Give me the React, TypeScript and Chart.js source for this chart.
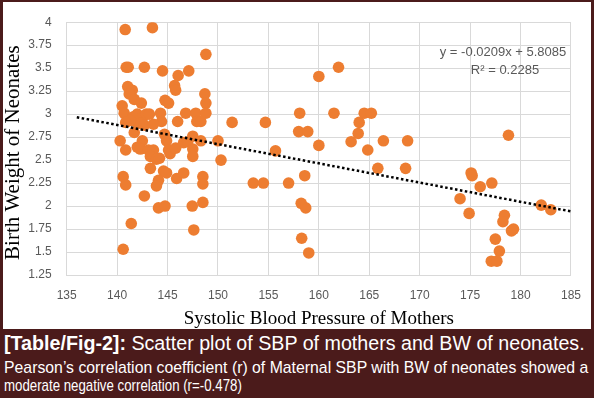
import React, { useEffect, useLayoutEffect, useRef } from 'react';
import { Chart, registerables } from 'chart.js';

Chart.register(...registerables);

// Systolic blood pressure of mothers (x)
const sbp: number[] = [
  140.8, 143.5, 148.8, 140.9, 141.1, 142.7, 144.5, 146.05, 147.1, 141.05,
  141.5, 141.2, 141.7, 142.4, 140.5, 145.7, 145.8, 144.75, 145.1, 148.7,
  148.8, 140.7, 141.6, 142.0, 142.5, 142.9, 143.2, 141.8, 142.3, 142.7,
  141.3, 140.85, 144.3, 144.4, 143.6, 146.0, 146.8, 147.8, 148.8, 147.9,
  148.3, 151.4, 154.7, 141.7, 144.7, 144.9, 140.3, 142.5, 140.85, 142.0,
  142.3, 143.1, 143.6, 143.3, 143.9, 144.2, 145.1, 145.25, 145.8, 146.6,
  147.0, 147.5, 147.5, 147.5, 148.3, 150.0, 150.3, 155.7, 143.3, 144.6,
  144.9, 145.9, 146.6, 140.6, 140.85, 144.1, 143.9, 148.5, 148.5, 142.7,
  144.1, 144.75, 147.45, 148.5, 141.4, 147.6, 140.6, 153.5, 154.5, 157.0,
  158.6, 158.25, 158.7, 158.3, 159.0, 160.0, 161.95, 158.1, 161.5, 164.5,
  165.2, 164.0, 158.0, 158.9, 163.9, 163.2, 160.0, 166.4, 168.8, 164.85,
  165.85, 168.6, 178.8, 175.1, 175.2, 176.0, 177.15, 174.0, 174.9, 178.4,
  178.25, 179.1, 179.3, 177.5, 177.9, 177.1, 177.65, 182.05, 183.0,
];

// Birth weight of neonates (y)
const bw: number[] = [
  3.92, 3.94, 3.65, 3.51, 3.51, 3.51, 3.47, 3.42, 3.47, 3.30,
  3.26, 3.22, 3.16, 3.12, 3.09, 3.31, 3.26, 3.15, 3.12, 3.22,
  3.12, 3.01, 2.97, 3.00, 2.96, 3.00, 3.00, 2.92, 2.90, 2.88,
  2.93, 2.91, 3.01, 2.92, 2.89, 2.92, 3.01, 3.01, 3.01, 2.92,
  2.92, 2.91, 2.91, 2.80, 2.78, 2.71, 2.71, 2.71, 2.61, 2.64,
  2.62, 2.61, 2.61, 2.54, 2.51, 2.52, 2.61, 2.57, 2.63, 2.69,
  2.70, 2.76, 2.62, 2.54, 2.71, 2.71, 2.50, 2.60, 2.41, 2.38,
  2.36, 2.30, 2.36, 2.32, 2.23, 2.28, 2.22, 2.32, 2.24, 2.11,
  1.98, 2.00, 2.00, 2.04, 1.81, 1.74, 1.53, 2.25, 2.25, 2.25,
  2.33, 2.03, 1.98, 1.65, 1.49, 3.41, 3.51, 3.01, 3.01, 3.01,
  3.01, 2.91, 2.81, 2.81, 2.79, 2.70, 2.66, 2.71, 2.71, 2.61,
  2.41, 2.41, 2.77, 2.36, 2.33, 2.21, 2.25, 2.08, 1.92, 1.90,
  1.83, 1.73, 1.75, 1.64, 1.51, 1.40, 1.40, 2.01, 1.96,
];

// Axis ranges (tick labels)
const xRange = { min: 135, max: 185, step: 5 };
const yRange = { min: 1.25, max: 4, step: 0.25 };

// Linear trendline as stated on the chart
const trendSlope = -0.0209;
const trendIntercept = 5.8085;
const trendXs: number[] = [136, 185];

const equationLabel = 'y = -0.0209x + 5.8085';
const r2Label = 'R² = 0.2285';
const xTitle = 'Systolic Blood Pressure of Mothers';
const yTitle = 'Birth Weight of Neonates';
const captionBold = '[Table/Fig-2]:';
const captionLine1 = ' Scatter plot of SBP of mothers and BW of neonates.';
const captionLine2 = 'Pearson\u2019s correlation coefficient (r) of Maternal SBP with BW of neonates showed a';
const captionLine3 = 'moderate negative correlation (r=-0.478)';

const MAROON = '#4b1b1b';

const textPlugin = {
  id: 'textPlugin',
  afterDraw(chart: any) {
    const { ctx, chartArea } = chart;
    const { left, right, top, bottom } = chartArea;
    ctx.save();
    ctx.fillStyle = '#000';
    ctx.font = '21px "Liberation Serif", serif';
    ctx.textAlign = 'center';
    ctx.textBaseline = 'middle';
    ctx.translate(13, (top + bottom) / 2 + 4);
    ctx.rotate(-Math.PI / 2);
    ctx.fillText(yTitle, 0, 0);
    ctx.restore();

    ctx.save();
    ctx.fillStyle = '#000';
    ctx.font = '19px "Liberation Serif", serif';
    ctx.textAlign = 'center';
    ctx.textBaseline = 'middle';
    ctx.fillText(xTitle, (left + right) / 2, 319);

    ctx.fillStyle = '#595959';
    ctx.font = '13px "Liberation Sans", Arial, sans-serif';
    ctx.fillText(equationLabel, 503, 52);
    ctx.fillText(r2Label, 505, 70);
    ctx.restore();
  },
};

function FitLine({ target, children, style }: { target: number; children: React.ReactNode; style: React.CSSProperties }) {
  const ref = useRef<HTMLDivElement | null>(null);
  useLayoutEffect(() => {
    const el = ref.current;
    if (!el) return;
    el.style.transform = 'none';
    const w = el.scrollWidth;
    if (w > 0) el.style.transform = `scaleX(${target / w})`;
  }, [target]);
  return (
    <div
      ref={ref}
      style={{
        ...style,
        position: 'absolute',
        whiteSpace: 'nowrap',
        transformOrigin: '0 0',
        display: 'inline-block',
      }}
    >
      {children}
    </div>
  );
}

const fmtTick = (v: any) => String(Number(Number(v).toFixed(2)));

export default function App() {
  const canvasRef = useRef<HTMLCanvasElement | null>(null);

  useEffect(() => {
    document.body.style.margin = '0';
    const canvas = canvasRef.current;
    if (!canvas) return;
    const points = sbp.map((x, i) => ({ x, y: bw[i] }));
    const trend = trendXs.map((x) => ({ x, y: trendSlope * x + trendIntercept }));
    const chart = new Chart(canvas, {
      type: 'scatter',
      data: {
        datasets: [
          {
            type: 'line',
            data: trend,
            borderColor: '#000',
            borderWidth: 2.5,
            borderDash: [2.5, 2.5],
            borderCapStyle: 'butt',
            pointRadius: 0,
            fill: false,
            order: 0,
          } as any,
          {
            data: points,
            backgroundColor: '#ED7D31',
            borderColor: '#ED7D31',
            borderWidth: 0,
            pointRadius: 5.8,
            order: 1,
          },
        ],
      },
      options: {
        animation: false,
        responsive: false,
        devicePixelRatio: 1,
        layout: { padding: { left: 0, right: 14.7, top: 12, bottom: 0 } },
        plugins: { legend: { display: false }, tooltip: { enabled: false } },
        scales: {
          x: {
            type: 'linear',
            min: xRange.min,
            max: xRange.max,
            ticks: {
              stepSize: xRange.step,
              color: '#595959',
              font: { family: '"Liberation Sans", Arial, sans-serif', size: 12 },
              padding: 13,
              callback: fmtTick,
            },
            grid: { color: '#d9d9d9', drawTicks: false },
            border: { color: '#d9d9d9' },
            afterFit: (s: any) => {
              s.height = 56;
            },
          },
          y: {
            type: 'linear',
            min: yRange.min,
            max: yRange.max,
            ticks: {
              stepSize: yRange.step,
              color: '#595959',
              font: { family: '"Liberation Sans", Arial, sans-serif', size: 12 },
              padding: 15,
              callback: fmtTick,
            },
            grid: { color: '#d9d9d9', drawTicks: false },
            border: { color: '#d9d9d9' },
            afterFit: (s: any) => {
              s.width = 66.7;
            },
          },
        },
      },
      plugins: [textPlugin],
    });
    return () => chart.destroy();
  }, []);

  const font = '"Liberation Sans", Arial, Helvetica, sans-serif';

  return (
    <div style={{ position: 'relative', width: 594, height: 398, background: '#fff', overflow: 'hidden' }}>
      <canvas ref={canvasRef} width={594} height={331} style={{ position: 'absolute', left: 0, top: 0, width: 594, height: 331 }} />
      <div
        style={{
          position: 'absolute',
          left: 0,
          top: 0,
          width: 594,
          height: 331,
          boxSizing: 'border-box',
          borderTop: `2px solid ${MAROON}`,
          borderLeft: `3px solid ${MAROON}`,
          borderRight: `3px solid ${MAROON}`,
          pointerEvents: 'none',
        }}
      />
      <div style={{ position: 'absolute', left: 0, top: 329, width: 594, height: 69, background: MAROON, color: '#fff' }}>
        <FitLine target={581} style={{ left: 4, top: 3, fontFamily: font, fontSize: 20, lineHeight: '22px' }}>
          <b>{captionBold}</b>
          {captionLine1}
        </FitLine>
        <FitLine target={584} style={{ left: 4, top: 29, fontFamily: font, fontSize: 17, lineHeight: '19px' }}>
          {captionLine2}
        </FitLine>
        <FitLine target={238} style={{ left: 4, top: 47, fontFamily: font, fontSize: 17, lineHeight: '19px' }}>
          {captionLine3}
        </FitLine>
      </div>
    </div>
  );
}
